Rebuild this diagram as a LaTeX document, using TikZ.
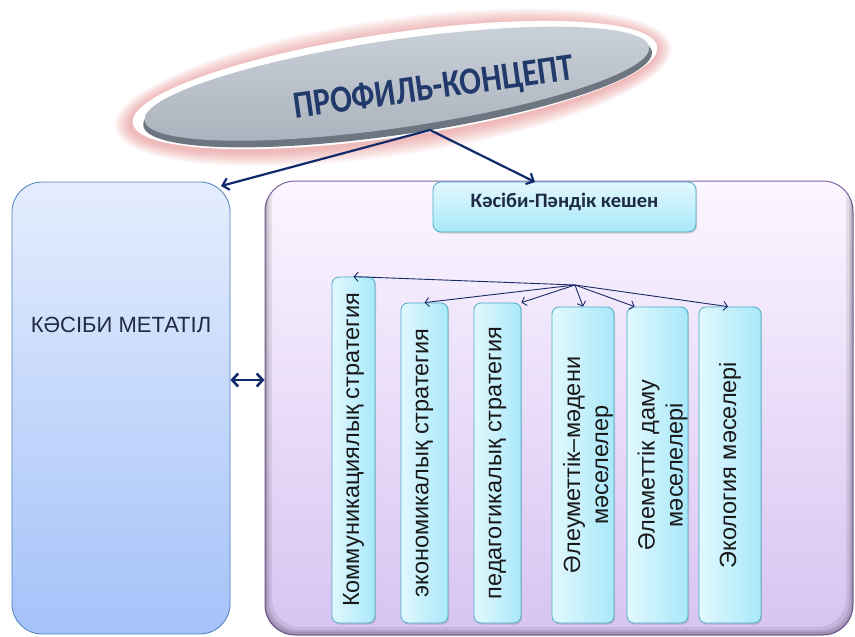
\documentclass[tikz,border=0pt]{standalone}
\usepackage{fontspec}
\setmainfont{Liberation Sans}
\newfontfamily\calb{Carlito}
\usetikzlibrary{arrows.meta,shadows}
\definecolor{navy}{HTML}{102A6C}
\definecolor{thinnavy}{HTML}{1A2A66}
\definecolor{lbord}{HTML}{4F81BD}
\definecolor{ltop}{HTML}{E4EDFD}
\definecolor{lbot}{HTML}{A4C2F9}
\definecolor{bbord}{HTML}{8064A2}
\definecolor{btop}{HTML}{FBF6FF}
\definecolor{bbot}{HTML}{D8C3F2}
\definecolor{cbord}{HTML}{4BACC6}
\definecolor{ctop}{HTML}{E2F8FE}
\definecolor{cbot}{HTML}{A8E8FA}
\definecolor{glow}{HTML}{D95A5A}
\definecolor{erim}{HTML}{6D7580}
\definecolor{etop}{HTML}{CBD1D9}
\definecolor{ebot}{HTML}{A9B1BC}
\definecolor{titlec}{HTML}{22396B}
\definecolor{txtdark}{HTML}{1F2A44}
\begin{document}
\begin{tikzpicture}[x=1pt,y=-1pt,
  lboxst/.style={draw=lbord, line width=0.8pt, rounded corners=30pt, top color=ltop, bottom color=lbot, minimum width=218pt, minimum height=452pt, inner sep=0pt},
  bigboxst/.style={draw=bbord, line width=1pt, rounded corners=30pt, top color=btop, bottom color=bbot, minimum width=588pt, minimum height=454pt, inner sep=0pt},
  hboxst/.style={draw=cbord, line width=0.8pt, rounded corners=8pt, top color=ctop, bottom color=cbot, minimum width=263pt, minimum height=50pt, inner sep=0pt, drop shadow={opacity=0.3, shadow xshift=1.2pt, shadow yshift=-1.5pt}},
  vboxst/.style={draw=cbord, line width=0.8pt, rounded corners=7pt, left color=ctop, right color=cbot, inner sep=0pt, drop shadow={opacity=0.3, shadow xshift=1.2pt, shadow yshift=-1.5pt}},
  vtext/.style={rotate=90, font=\fontsize{23.5}{28}\selectfont, text=black!90, align=center, inner sep=0pt},
  mainarr/.style={draw=navy, line width=2.2pt, -{Straight Barb[length=6pt,width=12pt]}},
  dblarr/.style={draw=navy, line width=2.6pt, {Straight Barb[length=6pt,width=13pt]}-{Straight Barb[length=6pt,width=13pt]}},
  thinarr/.style={draw=thinnavy, line width=0.9pt, -{Straight Barb[length=4pt,width=9pt]}}
]
\useasboundingbox (0,0) rectangle (855,637);

% ellipse (title)
\begin{scope}[rotate around={8.3:(395,85)}]
  \foreach \i in {1,...,9}
    \fill[glow, opacity=0.06] (393,87) ellipse [x radius={265+1.8*\i}, y radius={52+1.8*\i}];
  \fill[white] (395,85) ellipse [x radius=265, y radius=52];
  \fill[erim] (397,89) ellipse [x radius=257, y radius=46];
  \shade[top color=etop, bottom color=ebot] (397,84) ellipse [x radius=255, y radius=44];
\end{scope}
\node[rotate=8, text=titlec, font=\calb\bfseries\fontsize{32}{38}\selectfont, inner sep=0pt] (T) at (434,89) {\scalebox{1}[1.2]{ПРОФИЛЬ-КОНЦЕПТ}};
\coordinate (ehub) at (430,130);

% left box
\node[lboxst] (L) at (121,408) {};
\node[font=\fontsize{22}{26}\selectfont, text=txtdark] (Lt) at (121,325) {КӘСІБИ МЕТАТІЛ};

% big box
\node[bigboxst] (B) at (559,408) {};
\begin{scope}
  \clip[rounded corners=30pt] (265,181) rectangle (853,635);
  \foreach \d/\o in {2/0.10,4/0.10,7/0.08}
    \fill[black, opacity=\o, even odd rule] (250,160) rectangle (870,650)
      [rounded corners=28pt] (265+\d,150) rectangle (853-\d,635-\d-1);
\end{scope}

% header
\node[hboxst] (H) at (564.5,207) {};
\node[font=\calb\bfseries\fontsize{20.5}{24}\selectfont, text=txtdark] (Ht) at (564.5,202) {Кәсіби-Пәндік кешен};

% vertical boxes
\node[vboxst, minimum width=43pt, minimum height=346pt] (V1) at (353.5,450) {};
\node[vboxst, minimum width=47pt, minimum height=320pt] (V2) at (424.5,463) {};
\node[vboxst, minimum width=47pt, minimum height=320pt] (V3) at (497.5,463) {};
\node[vboxst, minimum width=62pt, minimum height=316pt] (V4) at (583,465) {};
\node[vboxst, minimum width=61pt, minimum height=316pt] (V5) at (657.5,465) {};
\node[vboxst, minimum width=62pt, minimum height=316pt] (V6) at (730,465) {};

\node[vtext] (V1t) at (V1) {Коммуникациялық стратегия};
\node[vtext] (V2t) at (V2) {экономикалық стратегия};
\node[vtext] (V3t) at (V3) {педагогикалық стратегия};
\node[vtext] (V4t) at ([xshift=5pt]V4.center) {Әлеуметтік–мәдени\\мәселелер};
\node[vtext] (V5t) at ([xshift=5pt]V5.center) {Әлеметтік даму\\мәселелері};
\node[vtext] (V6t) at (V6) {Экология мәселері};

% connectors
\coordinate (Ltip) at (221,186);
\coordinate (Htip) at (535,182);
\draw[mainarr] (ehub) -- (Ltip);
\draw[mainarr] (ehub) -- (Htip);
\draw[dblarr] ([yshift=28pt]L.east) -- ([yshift=28pt]B.west);

\coordinate (hub) at (575,285);
\draw[thinarr] (hub) -- (V1.north);
\draw[thinarr] (hub) -- (V2.north);
\draw[thinarr] (hub) -- (V3.north east);
\draw[thinarr] (hub) -- (V4.north);
\draw[thinarr] (hub) -- ([xshift=8pt]V5.north west);
\draw[thinarr] (hub) -- ([xshift=-2pt]V6.north);
\end{tikzpicture}
\end{document}
